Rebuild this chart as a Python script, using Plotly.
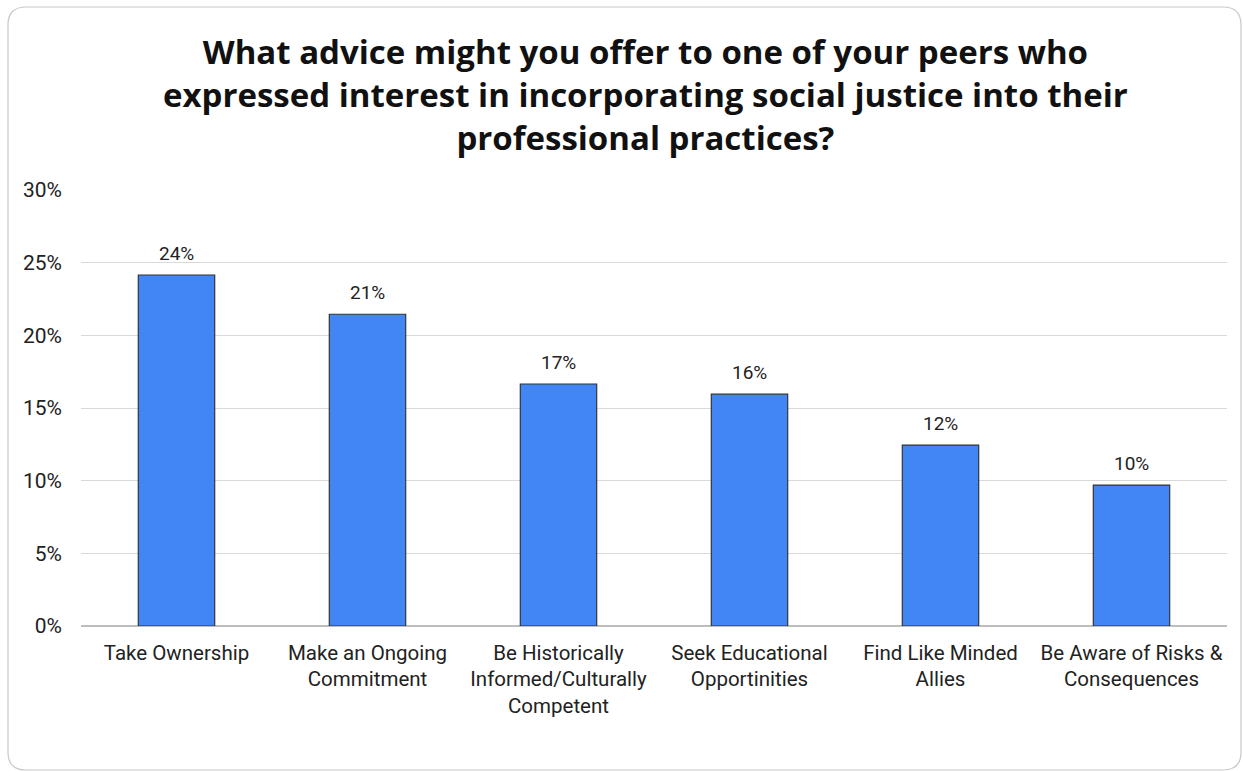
import plotly.graph_objects as go

# Survey responses: share of respondents giving each type of advice
categories = [
    "Take Ownership",
    "Make an Ongoing<br>Commitment",
    "Be Historically<br>Informed/Culturally<br>Competent",
    "Seek Educational<br>Opportinities",
    "Find Like Minded<br>Allies",
    "Be Aware of Risks &<br>Consequences",
]
shares = [24.15, 21.45, 16.65, 15.95, 12.45, 9.7]
y_ticks = [0, 5, 10, 15, 20, 25, 30]
y_tick_labels = [f"{t}%" for t in y_ticks]

title_text = (
    "What advice might you offer to one of your peers who<br>"
    "expressed interest in incorporating social justice into their<br>"
    "professional practices?"
)

W, H = 1243, 771
ML, MR, MT, MB = 81, 16, 190, 145
PW, PH = W - ML - MR, H - MT - MB


def px(x):
    return (x - ML) / PW


def py(y):
    return (H - MB - y) / PH


fig = go.Figure(
    go.Bar(
        x=categories,
        y=shares,
        width=0.4,
        marker=dict(color="#4285F4", line=dict(color="#333333", width=1.2)),
        hoverinfo="x+y",
    )
)

# value labels above each bar
for cat, v in zip(categories, shares):
    fig.add_annotation(
        x=cat, y=v, xref="x", yref="y",
        text=f"{round(v)}%",
        showarrow=False,
        yanchor="bottom",
        yshift=8,
        font=dict(family="Roboto, Arial, sans-serif", size=19, color="#222222"),
    )

# chart title
fig.add_annotation(
    x=px(645), y=py(94), xref="paper", yref="paper",
    text=title_text,
    showarrow=False,
    xanchor="center", yanchor="middle", align="center",
    font=dict(family="Open Sans, Arial, sans-serif", size=33, color="#111111", weight="bold"),
)

# rounded card outline around the whole chart
x0, x1, y0, y1, r = 8, 1241, 7, 770, 18
path = (
    f"M {px(x0 + r)} {py(y0)} L {px(x1 - r)} {py(y0)} "
    f"Q {px(x1)} {py(y0)} {px(x1)} {py(y0 + r)} "
    f"L {px(x1)} {py(y1 - r)} Q {px(x1)} {py(y1)} {px(x1 - r)} {py(y1)} "
    f"L {px(x0 + r)} {py(y1)} Q {px(x0)} {py(y1)} {px(x0)} {py(y1 - r)} "
    f"L {px(x0)} {py(y0 + r)} Q {px(x0)} {py(y0)} {px(x0 + r)} {py(y0)} Z"
)
fig.add_shape(
    type="path", path=path, xref="paper", yref="paper",
    line=dict(color="#c8c8c8", width=1.2), layer="below",
)

fig.update_layout(
    width=W,
    height=H,
    margin=dict(l=ML, r=MR, t=MT, b=MB),
    paper_bgcolor="white",
    plot_bgcolor="white",
    showlegend=False,
    xaxis=dict(
        showgrid=False,
        showline=False,
        ticks="",
        ticklabelstandoff=12,
        tickfont=dict(family="Roboto, Arial, sans-serif", size=20.5, color="#222222"),
    ),
    yaxis=dict(
        range=[0, 30],
        tickvals=y_ticks,
        ticktext=y_tick_labels,
        showgrid=True,
        gridcolor="#d9d9d9",
        gridwidth=1,
        zeroline=True,
        zerolinecolor="#bdbdbd",
        zerolinewidth=1.5,
        showline=False,
        ticks="",
        ticklabelstandoff=18,
        tickfont=dict(family="Roboto, Arial, sans-serif", size=21, color="#222222"),
    ),
)

fig.write_html("out.html")
